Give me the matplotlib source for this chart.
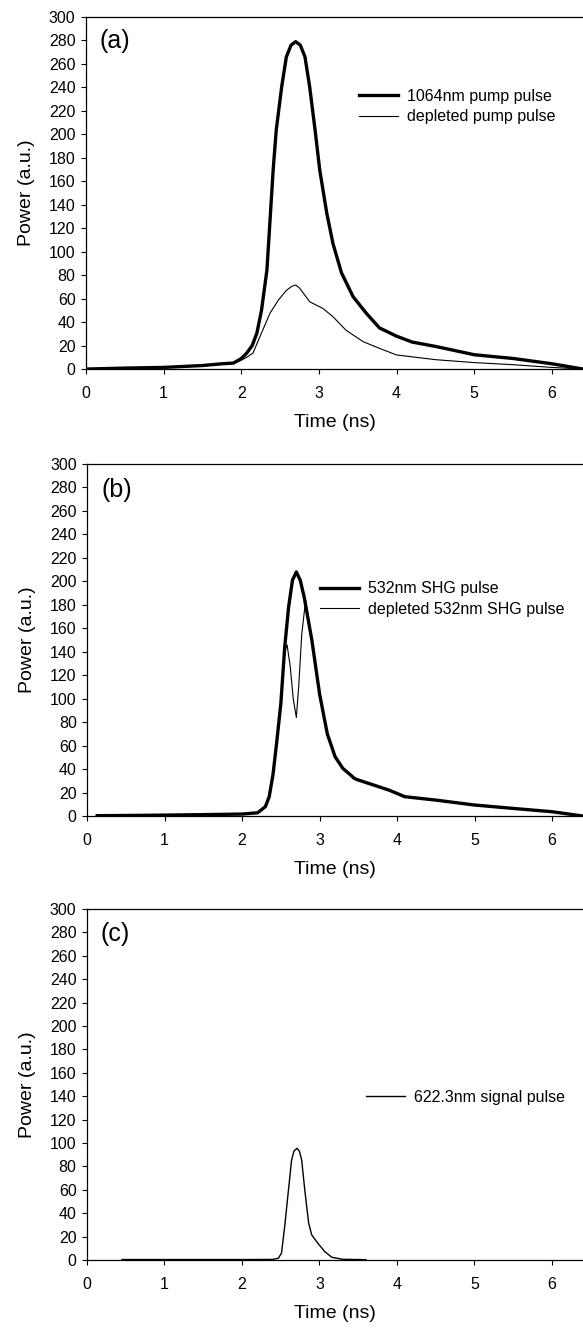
import matplotlib
matplotlib.use('Agg')
from matplotlib import pyplot as plt
import numpy as np

plt.rcParams['font.family'] = ['Liberation Sans', 'DejaVu Sans']

# (a) pump pulse and depleted pump pulse
t_pump = [0.0, 0.5, 1.0, 1.5, 1.75, 1.9, 2.0, 2.07, 2.14, 2.2, 2.26, 2.33, 2.37, 2.41,
          2.45, 2.52, 2.58, 2.64, 2.70, 2.76, 2.82, 2.88, 2.95, 3.01, 3.10, 3.18, 3.29,
          3.44, 3.61, 3.78, 4.0, 4.2, 4.5, 5.0, 5.5, 6.0, 6.4]
p_pump = [0.0, 0.8, 1.4, 3.0, 4.5, 5.1, 9.0, 13.6, 20, 30.5, 50, 84.4, 127, 169.6,
          203.7, 240.6, 266, 276, 279, 276, 266, 240.6, 203.7, 169.6, 133, 107, 82,
          61.6, 47.5, 35, 28, 23, 19.3, 12.2, 9.0, 4.5, 0.0]
t_dep = [0.0, 0.5, 1.0, 1.5, 1.75, 1.9, 2.0, 2.08, 2.15, 2.26, 2.37, 2.48, 2.58, 2.65,
         2.70, 2.75, 2.80, 2.88, 2.95, 3.05, 3.18, 3.35, 3.57, 3.78, 4.0, 4.5, 5.0,
         5.5, 6.0, 6.4]
p_dep = [0.0, 0.7, 1.2, 2.6, 4.0, 4.8, 7.5, 10.5, 13.6, 30.7, 47.7, 59, 67, 70.5,
         71.6, 69, 64.6, 57.4, 55, 51.7, 44.6, 33, 23.3, 17.6, 12, 8, 5.5, 3.7, 1.4,
         0.0]

# (b) SHG pulse and depleted SHG pulse
t_shg = [0.13, 0.5, 1.0, 1.5, 2.0, 2.2, 2.3, 2.35, 2.4, 2.45, 2.5, 2.55, 2.6, 2.65, 2.7,
         2.75, 2.8, 2.9, 3.0, 3.1, 3.2, 3.3, 3.4, 3.45, 3.5, 3.7, 3.9, 4.1, 4.5, 5.0,
         5.5, 6.0, 6.4]
p_shg = [0.3, 0.5, 0.8, 1.2, 1.7, 2.8, 8, 16.5, 36, 65, 96, 144, 178, 201, 208,
         201, 187, 150, 104, 70, 50.6, 40.6, 35, 32, 30.7, 26.4, 22, 16.5, 13.6, 9.4,
         6.5, 3.7, 0.0]
t_shg_dep = [0.13, 0.5, 1.0, 1.5, 2.0, 2.2, 2.3, 2.35, 2.4, 2.45, 2.5, 2.55, 2.58, 2.62,
             2.66, 2.70, 2.73, 2.77, 2.82, 2.9, 3.0, 3.1, 3.2, 3.3, 3.4, 3.45, 3.5, 3.7,
             3.9, 4.1, 4.5, 5.0, 5.5, 6.0, 6.4]
p_shg_dep = [0.3, 0.5, 0.8, 1.2, 1.7, 2.8, 8, 16.5, 36, 65, 96, 140, 146, 128,
             100, 84, 110, 155, 184, 150, 104, 70, 50.6, 40.6, 35, 32, 30.7, 26.4,
             22, 16.5, 13.6, 9.4, 6.5, 3.7, 0.0]

# (c) signal pulse
t_sig = [0.45, 1.0, 1.5, 2.0, 2.4, 2.47, 2.51, 2.55, 2.60, 2.64, 2.67, 2.71, 2.74, 2.77,
         2.81, 2.86, 2.90, 2.98, 3.07, 3.16, 3.3, 3.6]
p_sig = [0.4, 0.4, 0.4, 0.4, 0.5, 1.5, 6, 28, 60, 85.5, 93, 95.5, 93, 85.5,
         60, 31.6, 21.4, 14.2, 7.1, 2.3, 0.6, 0.3]

fig = plt.figure(figsize=(5.83, 13.28), dpi=100)

positions = [
    [0.1475, 0.7221, 0.8525, 0.2651],
    [0.1495, 0.3855, 0.8505, 0.2651],
    [0.1492, 0.0512, 0.8508, 0.2643],
]
axes = [fig.add_axes(p) for p in positions]

ax = axes[0]
ax.plot(t_pump, p_pump, color='k', lw=2.4, label='1064nm pump pulse')
ax.plot(t_dep, p_dep, color='k', lw=0.8, label='depleted pump pulse')

ax = axes[1]
ax.plot(t_shg, p_shg, color='k', lw=2.4, label='532nm SHG pulse')
ax.plot(t_shg_dep, p_shg_dep, color='k', lw=0.8, label='depleted 532nm SHG pulse')

ax = axes[2]
ax.plot(t_sig, p_sig, color='k', lw=1.0, label='622.3nm signal pulse')

legend_pos = [(0.549, 0.746), (0.469, 0.616), (0.5625, 0.464)]
tags = ['(a)', '(b)', '(c)']
tag_y = [0.932, 0.926, 0.93]

for ax, lp, tag, ty in zip(axes, legend_pos, tags, tag_y):
    ax.set_xlim(0, 6.4)
    ax.set_ylim(0, 300)
    ax.set_xticks(range(0, 7))
    ax.set_yticks(range(0, 301, 20))
    ax.tick_params(direction='out', length=3.5, width=0.8, labelsize=11.5, pad=4)
    ax.tick_params(axis='x', pad=9)
    ax.spines['right'].set_visible(False)
    for s in ['left', 'top', 'bottom']:
        ax.spines[s].set_linewidth(0.9)
    ax.set_xlabel('Time (ns)', fontsize=14, labelpad=9)
    ax.set_ylabel('Power (a.u.)', fontsize=14, labelpad=10)
    ax.text(0.028, ty, tag, transform=ax.transAxes, fontsize=18, va='center', ha='left')
    ax.legend(loc='center left', bbox_to_anchor=lp, frameon=False, fontsize=11.5,
              borderpad=0, borderaxespad=0, handlelength=2.45, handletextpad=0.55,
              labelspacing=0.35)

plt.savefig('out.png', dpi=100)
